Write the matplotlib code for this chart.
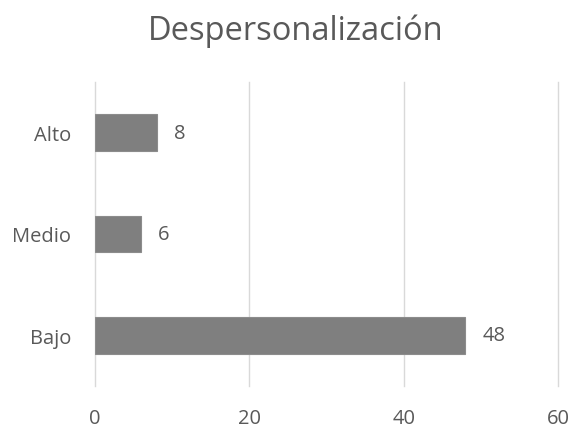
import matplotlib
matplotlib.use('Agg')
import matplotlib.pyplot as plt

categories = ['Bajo', 'Medio', 'Alto']
values = [48, 6, 8]
x_ticks = [0, 20, 40, 60]

plt.rcParams['font.family'] = ['Open Sans', 'DejaVu Sans']
text_color = '#595959'

fig = plt.figure(figsize=(5.71, 4.31), dpi=100)
ax = fig.add_axes([95 / 571, 44 / 431, 463 / 571, 304 / 431])

ax.barh(range(len(categories)), values, height=0.36, color='#7f7f7f',
        edgecolor='#8c8c8c', linewidth=0.8, zorder=3)

for i, v in enumerate(values):
    ax.text(v + 2.2, i, str(v), va='center', ha='left', fontsize=14.5, color=text_color)

ax.set_xlim(0, 60)
ax.set_ylim(-0.5, len(categories) - 0.5)
ax.set_xticks(x_ticks)
ax.set_yticks(range(len(categories)))
ax.set_yticklabels(categories)
ax.tick_params(axis='both', length=0, labelsize=14.5, labelcolor=text_color)
ax.tick_params(axis='x', pad=16)
ax.tick_params(axis='y', pad=17)
ax.grid(axis='x', color='#d9d9d9', linewidth=1, zorder=0)
for line in ax.get_xgridlines():
    line.set_clip_on(False)
for s in ax.spines.values():
    s.set_visible(False)

fig.suptitle('Despersonalización', x=0.517, y=0.967, va='top', fontsize=23.5, color=text_color)

fig.savefig('out.png', dpi=100)
